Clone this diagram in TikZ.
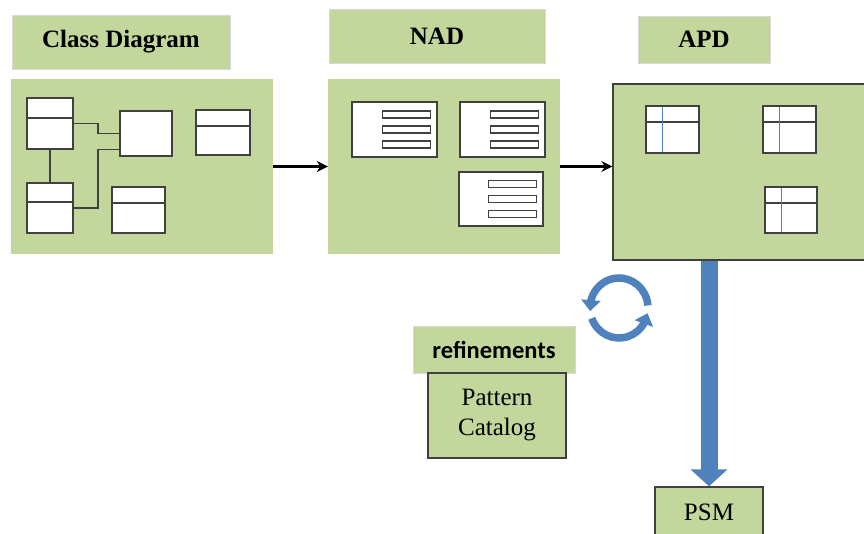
\documentclass[tikz,border=0pt]{standalone}
\usepackage{fontspec}
\setmainfont{Liberation Serif}
\newfontfamily\calibri{Carlito}
\usetikzlibrary{arrows.meta,bending,calc}
\definecolor{boxgreen}{RGB}{195,214,155}
\definecolor{flowblue}{RGB}{79,129,189}
\definecolor{edgegray}{RGB}{64,64,64}
\tikzset{
    headbox/.style={rectangle, draw=black!15, fill=boxgreen, inner sep=0pt, font=\fontsize{25}{30}\selectfont\bfseries},
    panel/.style={rectangle, fill=boxgreen, inner sep=0pt},
    cls/.style={rectangle, draw=edgegray, fill=white, line width=1.5pt, inner sep=0pt},
    clsdiv/.style={cls, path picture={\draw[line width=1.5pt, edgegray] ([yshift=-#1]path picture bounding box.north west) -- ([yshift=-#1]path picture bounding box.north east);}},
    bar/.style={rectangle, draw=edgegray, fill=white, line width=1.3pt, minimum width=48pt, minimum height=7pt, inner sep=0pt},
    tbl/.style={cls, minimum width=53pt, minimum height=47pt, path picture={
        \draw[line width=1.5pt, edgegray] ([yshift=-16pt]path picture bounding box.north west) -- ([yshift=-16pt]path picture bounding box.north east);
        \draw[line width=1pt, flowblue] ([xshift=16pt]path picture bounding box.north west) -- ([xshift=16pt]path picture bounding box.south west);}},
    link/.style={line width=1.5pt, edgegray},
    flow/.style={line width=2.6pt, -{Stealth[length=11pt, width=11pt]}},
    bigflow/.style={flowblue, line width=17pt, -{Triangle[width=36pt, length=17pt]}},
    roundarrow/.style={flowblue, line width=7.5pt, -{Triangle[width=19pt, length=11pt]}},
    textbox/.style={rectangle, draw=edgegray, fill=boxgreen, line width=1.3pt, inner sep=0pt, align=center, font=\fontsize{25}{30}\selectfont},
}

\begin{document}
\begin{tikzpicture}[x=1pt, y=-1pt]
    \useasboundingbox (0,0) rectangle (864,534);

    % Headers
    \node[headbox, minimum width=218pt, minimum height=54pt] (clsTitle) at (121,42) {Class Diagram};
    \node[headbox, minimum width=216pt, minimum height=54pt] (nadTitle) at (437,36) {NAD};
    \node[headbox, minimum width=132pt, minimum height=47pt] (apdTitle) at (704,39.5) {APD};

    % Panels
    \node[panel, minimum width=262pt, minimum height=175pt] (clsPanel) at (142,166.5) {};
    \node[panel, minimum width=232pt, minimum height=175pt] (nadPanel) at (444,166.5) {};
    \node[panel, draw=edgegray, line width=1.3pt, minimum width=255pt, minimum height=176pt] (apdPanel) at (740.5,172) {};

    % Class diagram
    \node[clsdiv=20pt, minimum width=46pt, minimum height=51pt] (c1) at (50,123.5) {};
    \node[cls, minimum width=52pt, minimum height=45pt] (c2) at (146,133.5) {};
    \node[clsdiv=16pt, minimum width=54pt, minimum height=45pt] (c3) at (223,132.5) {};
    \node[clsdiv=19pt, minimum width=46pt, minimum height=50pt] (c4) at (50,208) {};
    \node[clsdiv=16pt, minimum width=53pt, minimum height=46pt] (c5) at (138.5,210) {};
    \draw[link] (c1.east) -- ++(24,0) |- (c2.west);
    \draw[link] (c1.south) -- (c4.north);
    \draw[link] (c4.east) -- ++(24,0) |- ([yshift=7pt]c2.south west);

    % NAD
    \node[cls, minimum width=85pt, minimum height=55pt] (n1) at (394.5,129.5) {};
    \node[cls, minimum width=85pt, minimum height=55pt] (n2) at (502.5,129.5) {};
    \node[cls, minimum width=84pt, minimum height=54pt] (n3) at (501,199) {};
    \foreach \n in {n1,n2,n3}
        \foreach \dy in {-15,0,15}
            \node[bar] at ([xshift=-31pt, yshift=\dy pt]\n.east) {};

    % APD
    \node[tbl] (p1) at (672.5,129.5) {};
    \node[tbl] (p2) at (789.5,129.5) {};
    \node[tbl, minimum width=52pt, minimum height=46pt] (p3) at (791,210) {};

    \draw[flow] (clsPanel.east) -- (clsPanel.east -| nadPanel.west);
    \draw[flow] (nadPanel.east) -- (nadPanel.east -| apdPanel.west);

    % Refinements
    \node[headbox, font=\fontsize{24.5}{30}\selectfont\calibri\bfseries, minimum width=162pt, minimum height=47pt] (refine) at (494,349.5) {refinements};
    \node[textbox, minimum width=138pt, minimum height=85pt] (catalog) at (497,415.5) {Pattern\\Catalog};

    \coordinate (cyc) at (619,308);
    \draw[roundarrow] (cyc) ++(-5:29 and 30) arc[start angle=-5, end angle=-186, x radius=29, y radius=30];
    \draw[roundarrow] (cyc) ++(160:29 and 30) arc[start angle=160, end angle=10, x radius=29, y radius=30];

    % PSM
    \node[textbox, minimum width=108pt, minimum height=50pt] (psm) at (709,512) {PSM};
    \draw[bigflow] (psm.north |- apdPanel.south) -- (psm.north);
\end{tikzpicture}
\end{document}
